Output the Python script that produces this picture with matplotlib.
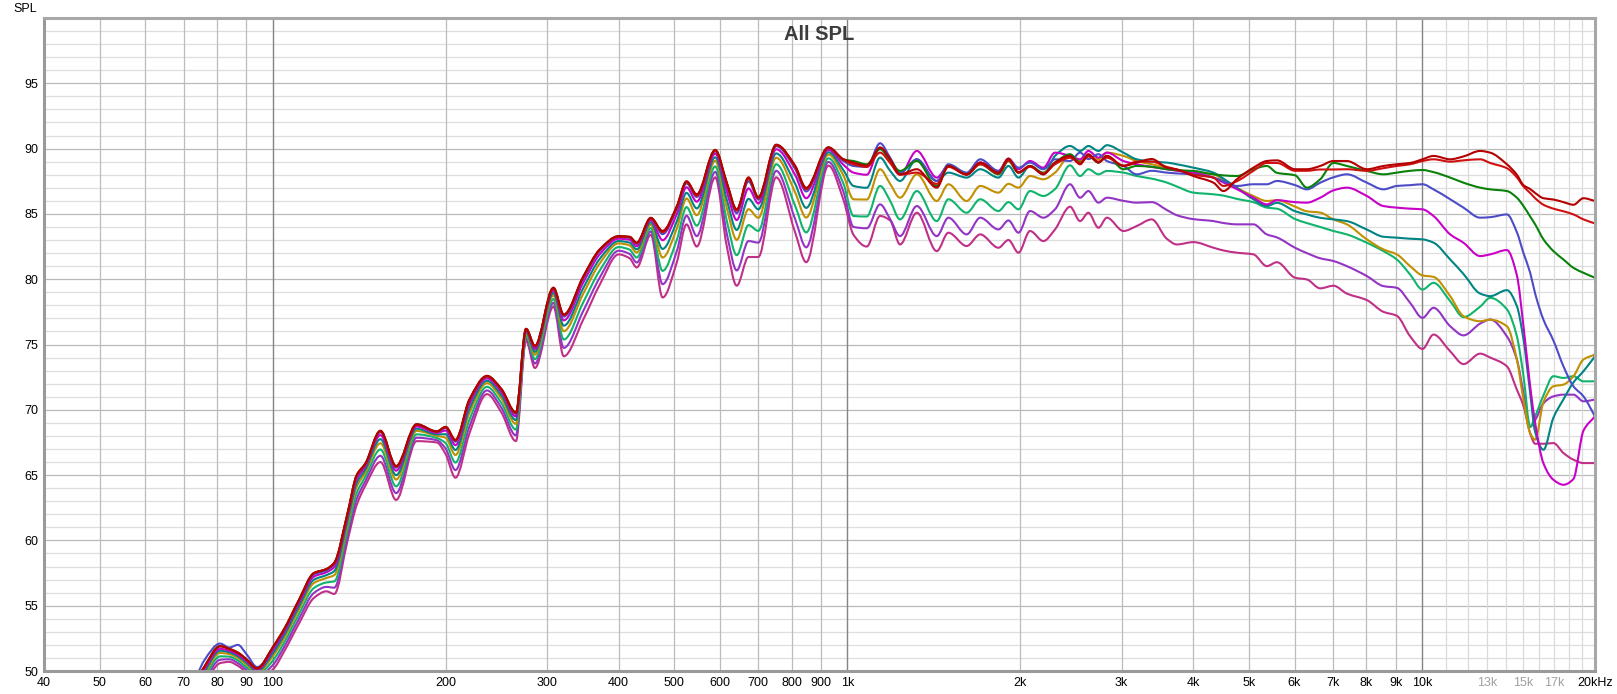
import numpy as np
import matplotlib
matplotlib.use("Agg")
import matplotlib.pyplot as plt
from matplotlib.path import Path
from matplotlib.patches import PathPatch

plt.rcParams['font.family'] = ['Liberation Sans', 'DejaVu Sans']

# frequency points (Hz) shared by all traces
freq = [72, 76, 81, 84, 87, 90, 94, 100, 105, 111, 118, 124, 128, 135, 140, 145, 154, 164,
        178, 193, 200, 208, 220, 236, 250, 265, 276, 286, 308, 321, 347, 371, 400, 418, 430,
        455, 477, 505, 525, 547, 589, 617, 642, 673, 700, 752, 811, 848, 927, 984,
        1025, 1081, 1140, 1187, 1235, 1321, 1431, 1499, 1613, 1703, 1832,
        1907, 1985, 2079, 2193, 2298, 2441, 2541, 2627, 2735, 2829, 3023, 3188, 3386, 3596,
        3743, 4000, 4336, 4513, 4761, 5089, 5370,
        5590, 6017, 6303, 6651, 7012, 7399, 8017, 8568, 9039, 9535, 10020, 10470, 11195,
        11808, 12624, 13140, 14049, 14624, 15016, 15424, 15735, 16268, 16932, 17624, 18344,
        19095, 20000]

red1 = [48.5, 50.3, 51.9, 51.7, 51.4, 50.9, 50.2, 51.8, 53.3, 55.4, 57.5, 57.8, 58.3, 62.1, 65.0, 65.9, 68.4, 65.7,
        68.9, 68.35, 68.7, 67.7, 70.8, 72.6, 71.6, 69.8, 76.2, 74.9, 79.35, 77.3, 80.2, 82.3, 83.3, 83.25, 82.8,
        84.7, 83.7, 85.6, 87.5, 86.5, 89.9, 87.4, 85.35, 87.8, 86.25, 90.3, 88.7, 87.0, 90.1, 89.2,
        88.93, 88.7, 90.08, 89.2, 88.03, 88.42, 87.01, 88.67, 88.03, 88.93, 88.16,
        89.23, 88.16, 88.67, 88.03, 88.93, 89.44, 88.80, 89.57, 88.93, 89.44, 88.67, 88.93, 89.2, 88.54,
        88.4, 87.9, 87.39, 86.75, 87.65, 88.54, 89.05,
        89.1, 88.42, 88.42, 88.67, 89.05, 89.05, 88.42, 88.67, 88.80, 88.9, 89.18, 89.44, 89.18,
        89.4, 89.82, 89.69, 88.8, 88.0, 87.2, 86.9, 86.6, 86.2, 86.1, 85.9, 85.7,
        86.2, 85.99]

red2 = [48.5, 50.3, 51.9, 51.7, 51.4, 50.9, 50.2, 51.8, 53.3, 55.4, 57.5, 57.8, 58.25, 62.05, 64.95, 65.85, 68.35, 65.65,
        68.85, 68.33, 68.65, 67.65, 70.75, 72.55, 71.55, 69.75, 76.2, 74.85, 79.3, 77.25, 80.15, 82.25, 83.25, 83.2, 82.75,
        84.65, 83.6, 85.5, 87.45, 86.4, 89.85, 87.3, 85.25, 87.7, 86.2, 90.25, 88.6, 86.9, 90.05, 89.15,
        88.8, 88.6, 89.69, 88.9, 88.0, 88.16, 87.3, 88.6, 88.0, 88.8, 88.1,
        89.1, 88.2, 88.6, 88.1, 88.8, 89.3, 88.9, 89.4, 89.0, 89.3, 88.7, 89.0, 89.0, 88.6,
        88.4, 88.0, 87.78, 87.14, 87.5, 88.3, 88.9,
        88.9, 88.3, 88.3, 88.4, 88.4, 88.42, 88.3, 88.5, 88.67, 88.8, 89.05, 89.18, 89.0,
        89.1, 89.18, 88.9, 88.5, 87.8, 87.1, 86.6, 86.2, 85.7, 85.4, 85.2, 84.96,
        84.58, 84.27]

green = [48.5, 50.3, 51.9, 51.7, 51.4, 50.9, 50.2, 51.8, 53.3, 55.4, 57.5, 57.8, 58.28, 62.08, 64.98, 65.88, 68.38, 65.67,
         68.89, 68.34, 68.68, 67.67, 70.77, 72.59, 71.58, 69.78, 76.19, 74.88, 79.34, 77.27, 80.17, 82.27, 83.29, 83.23, 82.78,
         84.69, 83.65, 85.56, 87.47, 86.46, 89.88, 87.35, 85.29, 87.74, 86.3, 90.28, 88.65, 86.94, 90.09, 89.17,
         89.05, 88.8, 89.95, 89.1, 88.29, 89.05, 87.14, 88.67, 88.03, 88.8, 88.03,
         89.05, 88.16, 88.67, 88.16, 88.93, 89.57, 88.93, 89.44, 88.93, 89.44, 88.42, 88.67, 88.6, 88.42,
         88.35, 88.29, 88.03, 87.95, 87.9, 88.42, 88.67,
         88.15, 87.95, 87.01, 87.65, 88.9, 88.67, 88.29, 88.03, 88.16, 88.3, 88.36, 88.2, 87.78,
         87.39, 87.01, 86.88, 86.75, 86.24, 85.6, 84.8, 84.2, 83.05, 82.15, 81.51, 80.87,
         80.49, 80.11]

blue = [48.4, 50.8, 52.1, 51.8, 52.0, 51.3, 50.3, 51.7, 53.2, 55.3, 57.4, 57.7, 58.18, 62.0, 64.9, 65.8, 68.28, 65.57,
        68.84, 68.31, 68.6, 67.56, 70.67, 72.53, 71.51, 69.69, 76.16, 74.82, 79.28, 77.14, 80.04, 82.17, 83.23, 83.17, 82.71,
        84.64, 83.45, 85.39, 87.34, 86.3, 89.8, 87.16, 85.06, 87.5, 86.1, 90.18, 88.45, 86.72, 90.03, 89.05,
        88.67, 88.6, 90.41, 89.3, 88.16, 89.18, 87.52, 88.8, 88.16, 89.18, 88.29,
        89.18, 88.54, 88.93, 88.42, 89.18, 89.05, 89.69, 89.2, 89.57, 89.05, 88.67, 88.03, 88.3, 88.16,
        88.1, 88.03, 87.78, 87.5, 87.14, 87.27, 87.27,
        87.52, 87.2, 86.88, 87.39, 87.8, 88.03, 87.39, 86.88, 87.14, 87.2, 87.27, 86.88, 86.12,
        85.48, 84.71, 84.75, 84.96, 83.6, 82.0, 80.5, 78.9, 76.9, 75.3, 73.33, 71.8,
        71.03, 69.5]

magenta = [48.3, 50.1, 51.7, 51.55, 51.25, 50.75, 50.1, 51.56, 53.06, 55.15, 57.23, 57.56, 57.96, 61.81, 64.68, 65.66, 68.06, 65.34,
           68.72, 68.23, 68.41, 67.29, 70.44, 72.4, 71.35, 69.49, 76.07, 74.66, 79.15, 76.85, 79.74, 81.92, 83.1, 83.02, 82.53,
           84.52, 82.99, 85.0, 87.04, 85.94, 89.61, 86.71, 84.53, 86.95, 85.8, 89.95, 87.99, 86.2, 89.9, 88.77,
           88.16, 88.0, 90.08, 89.0, 88.03, 89.82, 87.78, 88.67, 88.03, 88.93, 88.29,
           89.23, 88.42, 89.05, 88.54, 89.69, 89.44, 89.18, 89.82, 89.31, 89.69, 89.05, 88.80, 88.6, 88.42,
           88.3, 88.16, 87.78, 87.4, 86.9, 86.24, 85.73,
           86.05, 85.9, 85.86, 86.24, 86.8, 87.01, 86.37, 85.6, 85.48, 85.4, 85.35, 84.84, 83.43,
           82.79, 81.77, 81.9, 82.23, 80.3, 76.4, 71.8, 69.0, 65.9, 64.64, 64.26, 64.7,
           68.4, 69.5]

teal = [48.1, 49.9, 51.55, 51.43, 51.13, 50.63, 49.98, 51.34, 52.84, 54.91, 56.99, 57.34, 57.65, 61.53, 64.38, 65.44, 67.75, 65.0,
        68.55, 68.12, 68.13, 66.92, 70.1, 72.22, 71.11, 69.21, 75.96, 74.44, 78.96, 76.44, 79.31, 81.57, 82.92, 82.8, 82.29,
        84.35, 82.32, 84.44, 86.61, 85.42, 89.33, 86.08, 83.77, 86.15, 85.35, 89.63, 87.32, 85.46, 89.72, 88.36,
        87.14, 87.0, 89.31, 88.3, 87.52, 89.18, 87.52, 88.16, 87.78, 88.42, 87.78,
        88.67, 87.78, 88.67, 88.03, 89.44, 90.2, 89.82, 90.2, 89.82, 90.26, 89.69, 89.18, 89.0, 88.93,
        88.8, 88.54, 88.16, 87.7, 87.0, 86.12, 85.60,
        85.85, 85.2, 84.96, 84.7, 84.58, 84.45, 83.8, 83.25, 83.18, 83.1, 83.05, 82.8, 81.51,
        80.4, 78.9, 78.7, 79.16, 77.94, 75.4, 71.29, 68.3, 66.94, 69.4, 70.8, 72.1,
        72.95, 74.1]

gold = [47.9, 49.74, 51.38, 51.3, 51.0, 50.5, 49.88, 51.12, 52.62, 54.68, 56.74, 57.12, 57.34, 61.26, 64.08, 65.22, 67.44, 64.66,
        68.38, 68.01, 67.86, 66.54, 69.76, 72.04, 70.88, 68.92, 75.84, 74.22, 78.77, 76.02, 78.88, 81.22, 82.74, 82.59, 82.04,
        84.18, 81.66, 83.88, 86.18, 84.9, 89.06, 85.44, 83.01, 85.36, 84.7, 89.3, 86.66, 84.72, 89.54, 87.96,
        86.12, 86.1, 88.42, 87.3, 86.24, 88.03, 85.99, 87.27, 85.99, 87.14, 86.63,
        87.3, 87.01, 87.90, 87.65, 88.16, 89.44, 89.05, 89.44, 89.18, 89.69, 89.44, 89.05, 88.8, 88.54,
        88.4, 88.16, 88.03, 87.6, 87.0, 86.37, 85.99,
        86.05, 85.55, 85.2, 85.1, 84.58, 84.2, 83.05, 82.28, 81.9, 81.0, 80.29, 80.18, 78.7,
        77.17, 76.78, 76.9, 76.4, 73.85, 70.78, 68.22, 67.71, 70.6, 71.8, 71.93, 72.57,
        73.85, 74.23]

seagreen = [47.6, 49.46, 51.12, 51.1, 50.8, 50.3, 49.72, 50.78, 52.28, 54.32, 56.36, 56.78, 56.86, 60.84, 63.62, 64.88, 66.96, 64.14,
            68.12, 67.84, 67.44, 65.96, 69.24, 71.76, 70.52, 68.48, 75.66, 73.88, 78.48, 75.38, 78.22, 80.68, 82.46, 82.26, 81.66,
            83.92, 80.64, 83.02, 85.52, 84.1, 88.64, 84.46, 81.84, 84.14, 83.7, 88.8, 85.64, 83.58, 89.26, 87.34,
            84.84, 84.8, 87.14, 86.0, 84.58, 86.75, 84.45, 86.12, 85.09, 86.12, 85.22,
            85.9, 85.35, 86.75, 86.37, 86.9, 88.72, 87.90, 88.42, 88.03, 88.29, 88.16, 87.90, 87.7, 87.4,
            87.1, 86.63, 86.50, 86.4, 86.15, 85.9, 85.48,
            85.4, 84.6, 84.3, 84.0, 83.69, 83.43, 82.79, 82.15, 81.51, 80.36, 79.21, 79.72, 78.32,
            77.1, 77.9, 78.57, 77.7, 75.63, 72.6, 68.7, 69.5, 71.1, 72.57, 72.44, 72.57,
            72.18, 72.18]

purple = [47.3, 49.18, 50.86, 50.9, 50.6, 50.1, 49.56, 50.44, 51.94, 53.96, 55.98, 56.44, 56.38, 60.42, 63.16, 64.54, 66.48, 63.62,
          67.86, 67.67, 67.02, 65.38, 68.72, 71.48, 70.16, 68.04, 75.48, 73.54, 78.19, 74.74, 77.56, 80.14, 82.18, 81.93, 81.28,
          83.66, 79.62, 82.16, 84.86, 83.3, 88.22, 83.48, 80.67, 82.92, 82.8, 88.3, 84.62, 82.44, 88.98, 86.72,
          84.0, 83.9, 85.73, 84.6, 83.3, 85.6, 83.3, 84.71, 83.43, 84.71, 83.81,
          84.5, 83.56, 85.22, 84.71, 85.35, 87.27, 86.24, 86.75, 85.86, 86.24, 86.0, 85.86, 85.9, 85.3,
          84.9, 84.6, 84.45, 84.3, 84.2, 84.2, 83.43,
          83.2, 82.4, 82.0, 81.6, 81.39, 81.0, 80.24, 79.47, 79.34, 78.19, 77.04, 77.81, 76.40,
          75.7, 76.6, 76.91, 75.63, 73.85, 71.29, 68.7, 69.2, 70.5, 71.03, 71.16, 71.16,
          70.65, 70.78]

pink = [47.0, 48.9, 50.6, 50.7, 50.4, 49.9, 49.4, 50.1, 51.6, 53.6, 55.6, 56.1, 55.9, 60.0, 62.7, 64.2, 66.0, 63.1,
        67.6, 67.5, 66.6, 64.8, 68.2, 71.2, 69.8, 67.6, 75.3, 73.2, 77.9, 74.1, 76.9, 79.6, 81.9, 81.6, 80.9,
        83.4, 78.6, 81.3, 84.2, 82.5, 87.8, 82.5, 79.5, 81.7, 81.7, 87.8, 83.6, 81.3, 88.7, 86.1,
        83.4, 82.5, 84.84, 84.5, 82.66, 85.09, 82.15, 83.56, 82.54, 83.43, 82.41,
        83.0, 82.03, 83.69, 82.92, 83.81, 85.55, 84.45, 85.09, 83.94, 84.71, 83.69, 84.07, 84.58, 83.1,
        82.66, 82.84, 82.41, 82.2, 82.03, 81.9, 81.0,
        81.3, 80.11, 79.98, 79.3, 79.5, 78.9, 78.4, 77.5, 77.2, 75.63, 74.66, 75.76, 74.48,
        73.5, 74.3, 74.0, 73.33, 71.54, 70.3, 68.2, 67.4, 67.4, 67.45, 66.69, 66.18,
        65.92, 65.92]

series = [pink, purple, seagreen, gold, teal, magenta, blue, green, red2, red1]
colors = ['#c03088', '#9434c4', '#10b46c', '#c09000', '#008484', '#c800c8', '#4c4cc8', '#0a820a', '#d01010', '#b40000']

xtick_vals = [40, 50, 60, 70, 80, 90, 100, 200, 300, 400, 500, 600, 700, 800, 900,
              1000, 2000, 3000, 4000, 5000, 6000, 7000, 8000, 9000, 10000, 13000, 15000, 17000, 20000]
xtick_text = ['40', '50', '60', '70', '80', '90', '100', '200', '300', '400', '500', '600', '700', '800', '900',
              '1k', '2k', '3k', '4k', '5k', '6k', '7k', '8k', '9k', '10k', '13k', '15k', '17k', '20kHz']


def smooth_trace(f, v):
    # bezier path through the read points (monotone tangents in log-f), drawn by matplotlib
    lx = np.log10(np.asarray(f, float))
    y = np.asarray(v, float)
    h = np.diff(lx)
    d = np.diff(y) / h
    m = np.zeros_like(y)
    m[0], m[-1] = d[0], d[-1]
    for i in range(1, len(y) - 1):
        if d[i - 1] * d[i] > 0:
            w1 = 2 * h[i] + h[i - 1]
            w2 = h[i] + 2 * h[i - 1]
            m[i] = (w1 + w2) / (w1 / d[i - 1] + w2 / d[i])
    verts = [(lx[0], y[0])]
    codes = [Path.MOVETO]
    for i in range(len(y) - 1):
        verts += [(lx[i] + h[i] / 3, y[i] + m[i] * h[i] / 3),
                  (lx[i + 1] - h[i] / 3, y[i + 1] - m[i + 1] * h[i] / 3),
                  (lx[i + 1], y[i + 1])]
        codes += [Path.CURVE4] * 3
    verts = np.array(verts)
    verts[:, 0] = 10 ** verts[:, 0]
    return Path(verts, codes)


fig = plt.figure(figsize=(16.17, 6.94), dpi=100)
ax = fig.add_axes([44/1617, 23/694, 1551/1617, 653/694])
ax.set_xscale('log')
ax.set_xlim(40, 20000)
ax.set_ylim(50, 100)

# horizontal grid: every dB light, every 5 dB darker
for v in range(51, 100):
    c = '#b9b9b9' if v % 5 == 0 else '#dedede'
    ax.axhline(v, color=c, lw=0.9, zorder=0)

# vertical grid
vlines = [50, 60, 70, 80, 90, 200, 300, 400, 500, 600, 700, 800, 900,
          2000, 3000, 4000, 5000, 6000, 7000, 8000, 9000]
for f in vlines:
    ax.axvline(f, color='#bcbcbc', lw=0.9, zorder=0)
for f in [11000, 12000, 13000, 14000, 15000, 16000, 17000, 18000, 19000]:
    ax.axvline(f, color='#dadada', lw=0.9, zorder=0)
for f in [100, 1000, 10000]:
    ax.axvline(f, color='#848484', lw=1.0, zorder=0)

for s, c in zip(series, colors):
    ax.add_patch(PathPatch(smooth_trace(freq, s), fill=False, edgecolor=c, lw=1.5,
                           joinstyle='round', capstyle='round', zorder=2))

ax.set_xticks(xtick_vals)
ax.set_xticklabels(xtick_text)
ax.xaxis.set_minor_locator(matplotlib.ticker.NullLocator())
ax.tick_params(axis='x', length=0, pad=4, labelsize=9)
for lab in ax.get_xticklabels():
    if lab.get_text() in ('13k', '15k', '17k'):
        lab.set_color('#a0a0a0')

ax.set_yticks(range(50, 100, 5))
ax.set_yticklabels([str(v) for v in range(50, 100, 5)])
ax.tick_params(axis='y', length=0, pad=4, labelsize=9)

for sp in ax.spines.values():
    sp.set_color('#a8a8a8')
    sp.set_linewidth(2.2)
ax.spines['left'].set_color('#9a9a9a')
ax.spines['bottom'].set_color('#9a9a9a')

fig.text(37/1617, 1 - 9/694, 'SPL', ha='right', va='center', fontsize=9)
fig.text(819/1617, 1 - 34/694, 'All SPL', ha='center', va='center', fontsize=14.5,
         fontweight='bold', color='#3c3c3c')

fig.savefig('out.png', dpi=100)
